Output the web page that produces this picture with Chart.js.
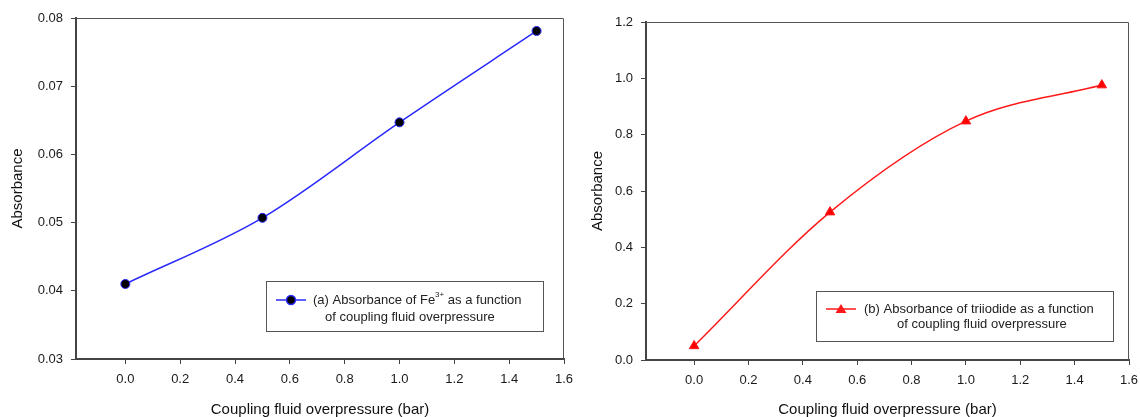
<!DOCTYPE html>
<html>
<head>
<meta charset="utf-8">
<script src="https://cdn.jsdelivr.net/npm/chart.js@4.4.0/dist/chart.umd.min.js"></script>
<style>
  html, body { margin: 0; padding: 0; background: #fff; }
  .panel { position: absolute; top: 0; height: 417px; }
</style>
</head>
<body>
<div class="panel" style="left:0;width:575px"><canvas id="chartFe"></canvas></div>
<div class="panel" style="left:575px;width:565px"><canvas id="chartI3"></canvas></div>
<script>
// data
var pressure = [0.0, 0.5, 1.0, 1.5];
var ironAbs = [0.0410, 0.0507, 0.0647, 0.0781];
var triiodideAbs = [0.050, 0.525, 0.848, 0.976];

var xTicks = [0.0, 0.2, 0.4, 0.6, 0.8, 1.0, 1.2, 1.4, 1.6];
var ironTicks = [0.03, 0.04, 0.05, 0.06, 0.07, 0.08];
var triTicks = [0.0, 0.2, 0.4, 0.6, 0.8, 1.0, 1.2];

var FONT = "'Liberation Sans', Arial, sans-serif";
var H = 417;

// top + right frame of the plot box
var framePlugin = {
    id: 'frame',
    beforeDatasetsDraw: function (chart) {
        var a = chart.chartArea, ctx = chart.ctx;
        ctx.save();
        ctx.strokeStyle = '#555';
        ctx.lineWidth = 1;
        ctx.beginPath();
        ctx.moveTo(a.left, a.top + 0.5);
        ctx.lineTo(a.right - 0.5, a.top + 0.5);
        ctx.lineTo(a.right - 0.5, a.bottom);
        ctx.stroke();
        ctx.restore();
    }
};

// boxed legend with two text lines
var legendPlugin = {
    id: 'boxLegend',
    afterDraw: function (chart, args, opts) {
        var ctx = chart.ctx;
        ctx.save();
        ctx.fillStyle = '#fff';
        ctx.fillRect(opts.x, opts.y, opts.w, opts.h);
        ctx.strokeStyle = '#555';
        ctx.lineWidth = 1;
        ctx.strokeRect(opts.x + 0.5, opts.y + 0.5, opts.w, opts.h);

        var ly = opts.y + opts.line1;
        ctx.strokeStyle = opts.color;
        ctx.lineWidth = 1.5;
        ctx.beginPath();
        ctx.moveTo(opts.x + opts.sx0, ly);
        ctx.lineTo(opts.x + opts.sx1, ly);
        ctx.stroke();
        var mx = opts.x + (opts.sx0 + opts.sx1) / 2;
        if (opts.marker === 'circle') {
            ctx.fillStyle = '#000';
            ctx.beginPath();
            ctx.arc(mx, ly, 4.5, 0, Math.PI * 2);
            ctx.fill();
            ctx.stroke();
        } else {
            ctx.fillStyle = opts.color;
            ctx.beginPath();
            ctx.moveTo(mx, ly - 5);
            ctx.lineTo(mx + 5.5, ly + 4);
            ctx.lineTo(mx - 5.5, ly + 4);
            ctx.closePath();
            ctx.fill();
        }

        ctx.fillStyle = '#222';
        ctx.textBaseline = 'middle';
        ctx.textAlign = 'left';
        var x = opts.x + opts.t1;
        opts.parts.forEach(function (p) {
            if (p.sup) {
                ctx.font = '8px ' + FONT;
                ctx.fillText(p.text, x, ly - 5);
            } else {
                ctx.font = '13px ' + FONT;
                ctx.fillText(p.text, x, ly);
            }
            x += ctx.measureText(p.text).width;
        });
        ctx.font = '13px ' + FONT;
        ctx.fillText(opts.text2, opts.x + opts.t2, opts.y + opts.line2);
        ctx.restore();
    }
};

function makeChart(id, cfg) {
    var ctx = document.getElementById(id).getContext('2d');
    return new Chart(ctx, {
        type: 'line',
        data: {
            datasets: [{
                data: pressure.map(function (p, i) { return { x: p, y: cfg.values[i] }; }),
                borderColor: cfg.color,
                borderWidth: 1.5,
                backgroundColor: cfg.pointFill,
                pointBorderColor: cfg.color,
                pointBorderWidth: 1,
                pointStyle: cfg.pointStyle,
                pointRadius: cfg.pointRadius,
                cubicInterpolationMode: 'monotone',
                fill: false
            }]
        },
        options: {
            responsive: true,
            maintainAspectRatio: false,
            animation: false,
            layout: { padding: { top: cfg.area.top, right: cfg.width - cfg.area.right, left: 0, bottom: 0 } },
            plugins: {
                legend: { display: false },
                tooltip: { enabled: false },
                boxLegend: cfg.legend
            },
            scales: {
                x: {
                    type: 'linear',
                    min: cfg.xMin,
                    max: 1.6,
                    afterBuildTicks: function (s) { s.ticks = xTicks.map(function (v) { return { value: v }; }); },
                    afterFit: function (s) {
                        s.height = H - cfg.area.bottom;
                        // don't let the last tick label push the plot in
                        s.paddingLeft = 0;
                        s.paddingRight = 0;
                    },
                    ticks: {
                        callback: function (v) { return v.toFixed(1); },
                        font: { family: FONT, size: 13 },
                        color: '#1a1a1a',
                        padding: 8,
                        maxRotation: 0
                    },
                    grid: { drawOnChartArea: false, drawTicks: true, tickLength: 5, tickColor: '#444' },
                    border: { color: '#444', width: 2 },
                    title: {
                        display: true,
                        text: 'Coupling fluid overpressure (bar)',
                        font: { family: FONT, size: 15 },
                        color: '#111',
                        padding: { top: 0, bottom: -2 }
                    }
                },
                y: {
                    type: 'linear',
                    min: cfg.yTicks[0],
                    max: cfg.yTicks[cfg.yTicks.length - 1],
                    afterBuildTicks: function (s) { s.ticks = cfg.yTicks.map(function (v) { return { value: v }; }); },
                    afterFit: function (s) { s.width = cfg.area.left; },
                    ticks: {
                        callback: function (v) { return v.toFixed(cfg.decimals); },
                        font: { family: FONT, size: 13 },
                        color: '#1a1a1a',
                        padding: 8
                    },
                    grid: { drawOnChartArea: false, drawTicks: true, tickLength: 5, tickColor: '#444' },
                    border: { color: '#444', width: 2 },
                    title: {
                        display: true,
                        text: 'Absorbance',
                        font: { family: FONT, size: 15 },
                        color: '#111',
                        padding: { top: cfg.yTitlePad, bottom: 0 }
                    }
                }
            }
        },
        plugins: [framePlugin, legendPlugin]
    });
}

makeChart('chartFe', {
    width: 575,
    area: { left: 76, top: 18, right: 564, bottom: 359 },
    xMin: -0.18,
    values: ironAbs,
    yTicks: ironTicks,
    decimals: 2,
    color: '#2a2aff',
    pointFill: '#000',
    pointStyle: 'circle',
    pointRadius: 4.5,
    yTitlePad: 9,
    legend: {
        x: 266, y: 281, w: 277, h: 50,
        color: '#2a2aff', marker: 'circle',
        sx0: 10, sx1: 40, line1: 19, line2: 36, t1: 47, t2: 59,
        parts: [{ text: '(a) Absorbance of Fe' }, { text: '3+', sup: true }, { text: ' as a function' }],
        text2: 'of coupling fluid overpressure'
    }
});

makeChart('chartI3', {
    width: 565,
    area: { left: 71, top: 22, right: 554, bottom: 360 },
    xMin: -0.177,
    values: triiodideAbs,
    yTicks: triTicks,
    decimals: 1,
    color: '#ff1a1a',
    pointFill: '#ff0000',
    pointStyle: 'triangle',
    pointRadius: 5.5,
    yTitlePad: 14,
    legend: {
        x: 241, y: 291, w: 297, h: 50,
        color: '#ff1a1a', marker: 'triangle',
        sx0: 10, sx1: 40, line1: 18, line2: 33, t1: 48, t2: 81,
        parts: [{ text: '(b) Absorbance of triiodide as a function' }],
        text2: 'of coupling fluid overpressure'
    }
});
</script>
</body>
</html>
